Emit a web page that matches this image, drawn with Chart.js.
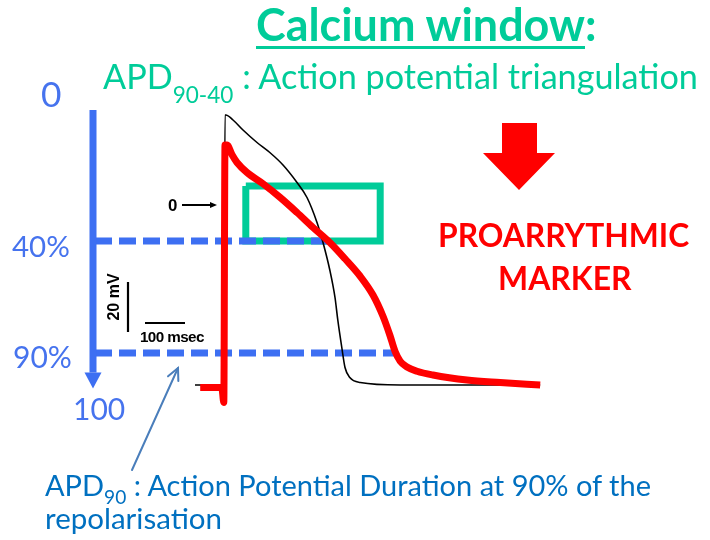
<!DOCTYPE html>
<html lang="en">
<head>
<meta charset="UTF-8">
<title>Calcium window</title>
<script src="https://cdn.jsdelivr.net/npm/chart.js"></script>
<style>
  html, body { margin: 0; padding: 0; background: #fff; }
  #stage { position: relative; width: 710px; height: 540px; overflow: hidden; }
  #ap { position: absolute; left: 0; top: 0; }
  .txt { position: absolute; left: 0; top: 0; white-space: nowrap; line-height: 1;
         font-family: Lato, "Open Sans", sans-serif; font-size: 30px; }
  .bl { display: inline-block; width: 0; height: 0; }
  .green { color: #00cc99; }
  .axis { color: #4673ee; }
  .red { color: #ff0000; font-weight: bold; }
  .note { color: #0070c0; }
  .ink { color: #000; font-family: "Liberation Sans", Arial, sans-serif; font-weight: bold; }
  #title { font-weight: bold; }
  #title u { text-decoration-thickness: 3px; text-underline-offset: 5px; }
  #sub sub { font-size: 0.66em; vertical-align: -0.6em; line-height: 0; }
  #note1 sub { font-size: 0.66em; vertical-align: -0.4em; line-height: 0; }
  #mv { transform: translate(-50%, -50%) rotate(-90deg); transform-origin: center; }
</style>
</head>
<body>
<div id="stage">
  <canvas id="ap" width="710" height="540"></canvas>

  <div class="txt green" id="title" data-x="256" data-b="41" data-w="341"><u>Calcium window</u>:</div>
  <div class="txt green" id="sub" data-x="103" data-b="89" data-w="595">APD<sub>90-40</sub> : Action potential triangulation</div>

  <div class="txt axis" data-x="41" data-b="107" data-w="20">0</div>
  <div class="txt axis" data-x="12" data-b="257" data-w="58">40%</div>
  <div class="txt axis" data-x="13" data-b="368" data-w="59">90%</div>
  <div class="txt axis" data-x="73" data-b="420" data-w="52">100</div>

  <div class="txt red" data-x="438" data-b="247" data-w="251">PROARRYTHMIC</div>
  <div class="txt red" data-x="498" data-b="290" data-w="134">MARKER</div>

  <div class="txt ink" data-x="168" data-b="211" data-w="9" style="font-size:15px">0</div>
  <div class="txt ink" data-x="140" data-b="342" data-w="64" style="letter-spacing:-0.6px">100 msec</div>
  <div class="txt ink" id="mv" data-cx="113" data-cy="297" data-w="47">20 mV</div>

  <div class="txt note" id="note1" data-x="45" data-b="496" data-w="606">APD<sub>90</sub> : Action Potential Duration at 90% of the</div>
  <div class="txt note" data-x="45" data-b="529" data-w="177">repolarisation</div>
</div>

<script>
  // time in msec, membrane potential in mV
  const blackTime = [-75, -8, -3, 0, 2, 20, 45, 80, 112, 145, 180, 205, 230, 245, 262, 275, 282, 292, 300, 312, 338, 438, 562, 788];
  const blackMv   = [-72, -72, -72, 36, 36, 34, 30, 25, 21, 16, 9, 3, -7, -15, -26, -37, -46, -57, -65, -69, -71, -72, -72, -72];

  const redTime = [-62, -8, -3, 0, 5, 18, 30, 55, 95, 138, 180, 220, 262, 300, 338, 370, 395, 412, 425, 438, 455, 480, 520, 605, 688, 788];
  const redMv   = [-73, -73, -79, 24, 24, 20, 17, 13, 8.5, 3, -3, -9, -15, -21.5, -28.5, -36, -44.5, -52, -58.5, -62.5, -64.8, -66.5, -68, -70, -71, -72];

  // repolarisation levels (40% and 90%) and where the red trace crosses them
  const levelNames = ['40%', '90%'];
  const levelMv    = [-14.4, -59.2];
  const levelFrom  = -325;
  const levelTo    = [255, 428];

  // calcium window box
  const windowTime = [52, 388];
  const windowMv   = [7.6, -14.4];

  // scale bars
  const barMv = 20;
  const barMs = 100;

  const xMin = -562.5, xMax = 1212.5;
  const yMin = -134, yMax = 82;

  const pts = (xs, ys) => xs.map((x, i) => ({ x: x, y: ys[i] }));

  const datasets = [
    {
      label: 'drug',
      data: pts(redTime, redMv),
      borderColor: '#ff0000',
      borderWidth: 7,
      borderJoinStyle: 'round',
      cubicInterpolationMode: 'monotone',
      order: 0
    },
    {
      label: 'control',
      data: pts(blackTime, blackMv),
      borderColor: '#000',
      borderWidth: 1.6,
      cubicInterpolationMode: 'monotone',
      order: 1
    },
    {
      label: 'window',
      data: pts([windowTime[0], windowTime[1], windowTime[1], windowTime[0], windowTime[0]],
                [windowMv[0], windowMv[0], windowMv[1], windowMv[1], windowMv[0]]),
      borderColor: '#00cc99',
      borderWidth: 7,
      borderJoinStyle: 'miter',
      order: 3
    },
    {
      label: 'mV bar',
      data: pts([-242.5, -242.5], [-30.8, -30.8 - barMv]),
      borderColor: '#000',
      borderWidth: 2.2,
      order: 4
    },
    {
      label: 'ms bar',
      data: pts([-200, -200 + barMs], [-47.2, -47.2]),
      borderColor: '#000',
      borderWidth: 2,
      order: 4
    }
  ];

  levelNames.forEach((name, i) => {
    datasets.push({
      label: name,
      data: pts([levelFrom, levelTo[i]], [levelMv[i], levelMv[i]]),
      borderColor: '#3d6ff2',
      borderWidth: 7,
      borderDash: [17, 7],
      order: 2
    });
  });

  datasets.forEach(d => { d.showLine = true; d.pointRadius = 0; d.fill = false; });

  const decor = {
    id: 'decor',
    afterDatasetsDraw(chart) {
      const { ctx, scales: { x, y } } = chart;
      const P = (t, v) => [x.getPixelForValue(t), y.getPixelForValue(v)];
      ctx.save();

      // vertical repolarisation arrow
      let [ax, ay0] = P(-330, 38);
      let [, ay1] = P(-330, -67);
      let [, tip] = P(-330, -73.4);
      ctx.strokeStyle = ctx.fillStyle = '#3d6ff2';
      ctx.lineWidth = 7;
      ctx.beginPath(); ctx.moveTo(ax, ay0); ctx.lineTo(ax, ay1); ctx.stroke();
      ctx.beginPath(); ctx.moveTo(ax - 8.5, ay1); ctx.lineTo(ax + 8.5, ay1); ctx.lineTo(ax, tip); ctx.closePath(); ctx.fill();

      // red block arrow
      const ra = [[692.5, 32.8], [780, 32.8], [780, 20.8], [825, 20.8], [735, 6], [645, 20.8], [692.5, 20.8]].map(p => P(p[0], p[1]));
      ctx.fillStyle = '#ff0000';
      ctx.beginPath();
      ra.forEach((p, i) => i ? ctx.lineTo(p[0], p[1]) : ctx.moveTo(p[0], p[1]));
      ctx.closePath(); ctx.fill();

      // pointer from the APD90 note
      const [px0, py0] = P(-232.5, -106);
      const [px1, py1] = P(-117.5, -65.2);
      const ang = Math.atan2(py1 - py0, px1 - px0);
      ctx.strokeStyle = '#4a7ebb';
      ctx.lineWidth = 2;
      ctx.lineCap = 'round';
      ctx.beginPath(); ctx.moveTo(px0, py0); ctx.lineTo(px1, py1); ctx.stroke();
      ctx.beginPath();
      ctx.moveTo(px1 - 13 * Math.cos(ang - 0.45), py1 - 13 * Math.sin(ang - 0.45));
      ctx.lineTo(px1, py1);
      ctx.lineTo(px1 - 13 * Math.cos(ang + 0.45), py1 - 13 * Math.sin(ang + 0.45));
      ctx.stroke();

      // 0 mV marker arrow
      const [zx0, zy] = P(-107.5, 0);
      const [zx1] = P(-20, 0);
      ctx.strokeStyle = ctx.fillStyle = '#000';
      ctx.lineWidth = 2;
      ctx.lineCap = 'butt';
      ctx.beginPath(); ctx.moveTo(zx0, zy); ctx.lineTo(zx1 - 5, zy); ctx.stroke();
      ctx.beginPath(); ctx.moveTo(zx1, zy); ctx.lineTo(zx1 - 7, zy - 3); ctx.lineTo(zx1 - 7, zy + 3); ctx.closePath(); ctx.fill();

      ctx.restore();
    }
  };

  new Chart(document.getElementById('ap'), {
    type: 'scatter',
    data: { datasets: datasets },
    options: {
      responsive: false,
      animation: false,
      devicePixelRatio: 1,
      layout: { padding: 0 },
      plugins: { legend: { display: false }, tooltip: { enabled: false } },
      scales: {
        x: { type: 'linear', min: xMin, max: xMax, display: false },
        y: { type: 'linear', min: yMin, max: yMax, display: false }
      }
    },
    plugins: [decor]
  });

  // size each text line to the width it has on the slide, then sit it on its baseline
  function placeText() {
    const stage = document.getElementById('stage').getBoundingClientRect();
    document.querySelectorAll('.txt').forEach(el => {
      const w = +el.dataset.w;
      let fs = parseFloat(getComputedStyle(el).fontSize);
      fs = fs * w / el.offsetWidth;
      el.style.fontSize = fs + 'px';
      if (el.dataset.cx) {
        el.style.left = el.dataset.cx + 'px';
        el.style.top = el.dataset.cy + 'px';
        return;
      }
      let mark = el.querySelector('.bl');
      if (!mark) {
        mark = document.createElement('span');
        mark.className = 'bl';
        el.appendChild(mark);
      }
      el.style.left = el.dataset.x + 'px';
      el.style.top = '0px';
      const base = mark.getBoundingClientRect().top - stage.top;
      el.style.top = (+el.dataset.b - base) + 'px';
    });
  }
  placeText();
  if (document.fonts) document.fonts.ready.then(placeText);
</script>
</body>
</html>
